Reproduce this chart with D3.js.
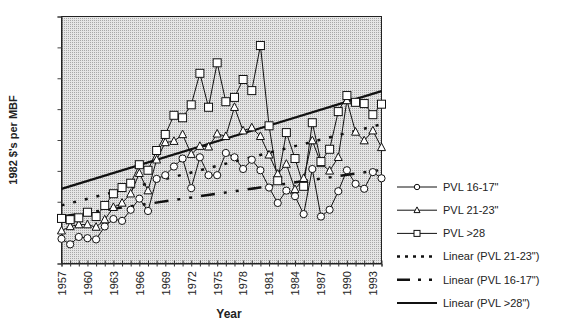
<!DOCTYPE html>
<html><head><meta charset="utf-8">
<script src="https://cdn.jsdelivr.net/npm/d3@7"></script>
<style>body{margin:0;background:#fff}svg{display:block;font-family:Arial,"Liberation Sans",sans-serif}</style>
</head><body><svg id="c" width="576" height="327"></svg>
<script>
const years = d3.range(1957, 1995);
const pvl1617 = [40,31,43,41,39,60,72,69,87,105,85,137,143,157,170,122,172,143,143,179,172,153,168,151,123,98,118,109,80,153,76,87,117,151,129,121,148,138];
const pvl2123 = [53,60,63,63,59,71,91,98,113,146,118,168,196,198,209,177,190,189,210,206,253,215,220,206,176,145,161,120,138,199,162,150,172,264,213,199,215,188];
const pvl28   = [73,71,74,83,76,94,113,123,130,160,151,183,209,240,236,257,308,253,325,262,269,298,280,353,223,134,212,170,125,228,165,185,246,272,261,259,241,258];
const xTickLabels = d3.range(1957, 1994, 3);
const yTicks = d3.range(0, 401, 50);
const legendLabels = ['PVL 16-17"', 'PVL 21-23"', 'PVL >28', 'Linear (PVL 21-23")', 'Linear (PVL 16-17")', 'Linear (PVL >28")'];

const svg = d3.select('#c');
const L = 61.5, R = 381.5, T = 16.5, B = 263.5;
const x = d3.scaleLinear().domain([1957, 1994]).range([L, R]);
const y = d3.scaleLinear().domain([0, 400]).range([B, T]);

const defs = svg.append('defs');
const pat = defs.append('pattern').attr('id','dots').attr('width',2).attr('height',2).attr('patternUnits','userSpaceOnUse');
pat.append('rect').attr('width',2).attr('height',2).attr('fill','#e6e6e6');
pat.append('rect').attr('width',1).attr('height',1).attr('fill','#a8a8a8');

svg.append('rect').attr('x',L).attr('y',T).attr('width',R-L).attr('height',B-T).attr('fill','url(#dots)').attr('stroke','#222').attr('stroke-width',1);

// axes
const yAx = svg.append('g').attr('transform',`translate(${L},0)`).call(d3.axisLeft(y).tickValues(yTicks).tickSize(4).tickFormat(''));
yAx.select('.domain').attr('stroke','#222');
yAx.selectAll('.tick line').attr('stroke','#444');
const xAx = svg.append('g').attr('transform',`translate(0,${B})`).call(d3.axisBottom(x).tickValues(years).tickSize(3).tickFormat(''));
xAx.select('.domain').attr('stroke','#222');
xAx.selectAll('.tick line').attr('y1',-3).attr('stroke','#333');
svg.append('g').selectAll('text').data(xTickLabels).join('text')
  .attr('transform', d => `translate(${x(d)+0.5},271) rotate(-90)`)
  .attr('text-anchor','end').attr('dy','0.35em').attr('font-size',11).attr('fill','#222').text(d => d);

svg.append('text').attr('x',229).attr('y',318).attr('text-anchor','middle').attr('font-size',12).attr('font-weight','bold').attr('fill','#222').text('Year');
svg.append('text').attr('transform','translate(17,140) rotate(-90)').attr('text-anchor','middle').attr('font-size',11).attr('font-weight','bold').attr('fill','#222').text("1982 $'s per MBF");

// trendlines
function fit(vals){
  const n = vals.length, mx = d3.mean(years), my = d3.mean(vals);
  let sxy=0, sxx=0;
  years.forEach((yr,i)=>{sxy+=(yr-mx)*(vals[i]-my); sxx+=(yr-mx)*(yr-mx);});
  const b = sxy/sxx, a = my - b*mx;
  return [[1957, a+b*1957],[1994, a+b*1994]];
}
const lineT = d3.line().x(d=>x(d[0])).y(d=>y(d[1]));
const trends = [
  {v:pvl2123, dash:'3,9', w:2.5},
  {v:pvl1617, dash:'14,9,3,9,3,9', w:2.5},
  {v:pvl28, dash:null, w:2.2}
];

const series = [pvl1617, pvl2123, pvl28];
const lineS = d3.line().x((d,i)=>x(years[i])).y(d=>y(d));
series.forEach(s => svg.append('path').attr('d', lineS(s)).attr('fill','none').attr('stroke','#111').attr('stroke-width',1));
trends.forEach(t => svg.append('path').attr('d', lineT(fit(t.v))).attr('fill','none').attr('stroke','#111').attr('stroke-width',t.w).attr('stroke-dasharray',t.dash));

function marker(g, kind, cx, cy, s){
  if(kind===0) g.append('circle').attr('cx',cx).attr('cy',cy).attr('r',s*0.45);
  else if(kind===1) g.append('path').attr('d',`M${cx},${cy-s*0.55}L${cx+s*0.5},${cy+s*0.4}L${cx-s*0.5},${cy+s*0.4}Z`);
  else g.append('rect').attr('x',cx-s/2).attr('y',cy-s/2).attr('width',s).attr('height',s);
}
series.forEach((s,k) => {
  const g = svg.append('g').attr('fill','#fff').attr('stroke','#111').attr('stroke-width',1);
  s.forEach((v,i) => marker(g, k, x(years[i]), y(v), 8));
});

// legend
const lg = svg.append('g');
legendLabels.forEach((lab,i) => {
  const yy = 187 + i*23.2;
  const st = i<3 ? {w:1,dash:null} : [{w:2.5,dash:'3,5'},{w:2.5,dash:'13,8,3,8,3,8'},{w:2,dash:null}][i-3];
  lg.append('line').attr('x1',397).attr('x2',437).attr('y1',yy).attr('y2',yy).attr('stroke','#111').attr('stroke-width',st.w).attr('stroke-dasharray',st.dash);
  if(i<3){
    const g = lg.append('g').attr('fill','#fff').attr('stroke','#111').attr('stroke-width',1);
    marker(g, i, 417, yy, 6);
  }
  lg.append('text').attr('x',443).attr('y',yy).attr('dy','0.35em').attr('font-size',11).attr('fill','#222').text(lab);
});
</script></body></html>
